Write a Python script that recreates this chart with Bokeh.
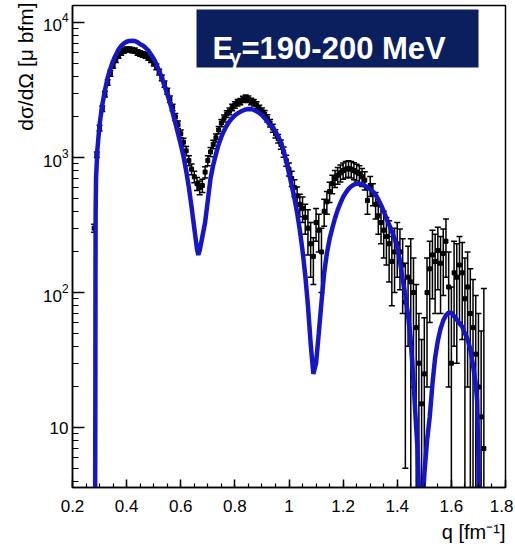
import numpy as np
from bokeh.plotting import figure
from bokeh.models import (ColumnDataSource, Whisker, TeeHead, Label, BoxAnnotation,
                          FixedTicker, LogTicker, LogTickFormatter, Range1d,
                          CustomJSTickFormatter, Title)
from bokeh.embed import file_html
from bokeh.resources import INLINE

# ---------------- data ----------------
# theory curve (q in fm^-1, dsigma/dOmega in mu b fm)
q_theory = [0.283, 0.2845, 0.285, 0.2855, 0.287, 0.292, 0.300, 0.31, 0.32, 0.33, 0.34, 0.35,
            0.36, 0.37, 0.38, 0.39, 0.40, 0.41, 0.42, 0.43, 0.44, 0.45, 0.46, 0.47, 0.48,
            0.49, 0.50, 0.51, 0.52, 0.53, 0.54, 0.55, 0.56, 0.57, 0.58, 0.59, 0.60, 0.61,
            0.62, 0.63, 0.64, 0.65, 0.66, 0.665, 0.67, 0.68, 0.69, 0.70, 0.71, 0.72, 0.73,
            0.74, 0.75, 0.76, 0.77, 0.78, 0.79, 0.80, 0.81, 0.82, 0.83, 0.84, 0.85, 0.86,
            0.87, 0.88, 0.89, 0.90, 0.91, 0.92, 0.93, 0.94, 0.95, 0.96, 0.97, 0.98, 0.99,
            1.00, 1.01, 1.02, 1.03, 1.04, 1.05, 1.06, 1.07, 1.08, 1.09, 1.10, 1.11, 1.12,
            1.13, 1.14, 1.15, 1.16, 1.17, 1.18, 1.19, 1.20, 1.21, 1.22, 1.23, 1.24, 1.25,
            1.26, 1.27, 1.28, 1.29, 1.30, 1.31, 1.32, 1.33, 1.34, 1.35, 1.36, 1.37, 1.38,
            1.39, 1.40, 1.41, 1.42, 1.43, 1.44, 1.45, 1.46, 1.47, 1.475, 1.48, 1.487, 1.495,
            1.50, 1.51, 1.52, 1.53, 1.54, 1.55, 1.56, 1.57, 1.58, 1.59, 1.60, 1.61, 1.62,
            1.63, 1.64, 1.65, 1.66, 1.67, 1.68, 1.69, 1.695, 1.70, 1.703]
xs_theory = [0.5, 20, 150, 400, 700, 1150, 1750, 2450, 3150, 3900, 4550, 5200,
             5750, 6300, 6700, 7000, 7200, 7300, 7320, 7300, 7150, 6900, 6750, 6500, 6200,
             5800, 5400, 4900, 4400, 3900, 3400, 2950, 2550, 2150, 1800, 1500, 1250, 1020,
             800, 600, 430, 300, 210, 190, 205, 260, 330, 480, 700, 880, 1060,
             1250, 1420, 1580, 1730, 1850, 1960, 2050, 2120, 2180, 2230, 2270, 2290, 2280,
             2250, 2200, 2140, 2060, 1960, 1850, 1730, 1680, 1560, 1430, 1300, 1120, 940,
             760, 620, 500, 390, 290, 205, 135, 80, 42, 25, 30, 50, 85,
             140, 195, 250, 300, 355, 410, 460, 510, 550, 585, 612, 630, 640,
             640, 632, 618, 600, 585, 560, 530, 490, 445, 400, 355, 318, 285,
             250, 218, 170, 125, 95, 68, 44, 22, 10, 7, 3.5, 1.5, 3,
             4.5, 8, 12, 21, 33, 44, 54, 62, 68, 71, 71, 67, 63,
             59, 56, 50, 45, 38, 29, 21, 16, 6, 1]

# measured data
q_data = [0.28, 0.29, 0.30, 0.31, 0.32, 0.33, 0.34, 0.35, 0.36, 0.37, 0.38, 0.39,
          0.40, 0.41, 0.42, 0.43, 0.44, 0.45, 0.46, 0.47, 0.48, 0.49, 0.50, 0.51,
          0.52, 0.53, 0.54, 0.55, 0.56, 0.57, 0.58, 0.59, 0.60, 0.61, 0.62, 0.63,
          0.64, 0.65, 0.66, 0.67, 0.68, 0.69, 0.70, 0.71, 0.72, 0.73, 0.74, 0.75,
          0.76, 0.77, 0.78, 0.79, 0.80, 0.81, 0.82, 0.83, 0.84, 0.85, 0.86, 0.87,
          0.88, 0.89, 0.90, 0.91, 0.92, 0.93, 0.94, 0.95, 0.96, 0.97, 0.98, 0.99,
          1.00, 1.01, 1.02, 1.03, 1.04, 1.05, 1.06, 1.07, 1.08, 1.09, 1.10, 1.11,
          1.12, 1.13, 1.14, 1.15, 1.16, 1.17, 1.18, 1.19, 1.20, 1.21, 1.22, 1.23,
          1.24, 1.25, 1.26, 1.27, 1.28, 1.29, 1.30, 1.31, 1.32, 1.33, 1.34, 1.35,
          1.36, 1.37, 1.38, 1.39, 1.40, 1.41, 1.42, 1.43, 1.44, 1.45, 1.46, 1.47,
          1.48, 1.49, 1.50, 1.51, 1.52, 1.53, 1.54, 1.55, 1.56, 1.57, 1.58, 1.59,
          1.60, 1.61, 1.62, 1.63, 1.64, 1.65, 1.66, 1.67, 1.68, 1.69, 1.70, 1.71,
          1.72]
xs_data = [300, 1050, 1650, 2300, 2950, 3600, 4200, 4800, 5300, 5700, 6000, 6200,
           6300, 6300, 6250, 6200, 6000, 5900, 5800, 5700, 5500, 5300, 5000, 4700,
           4300, 3900, 3500, 3100, 2700, 2350, 2000, 1750, 1500, 1300, 1120, 950,
           820, 720, 640, 600, 620, 780, 950, 1100, 1250, 1400, 1600, 1800,
           1950, 2100, 2200, 2350, 2450, 2550, 2600, 2700, 2750, 2700, 2600, 2550,
           2450, 2300, 2200, 2100, 1950, 1800, 1650, 1500, 1380, 1250, 1100, 950,
           820, 700, 600, 520, 450, 420, 360, 300, 230, 185, 330, 290,
           200, 400, 470, 560, 640, 700, 740, 770, 800, 820, 830, 820,
           800, 780, 760, 720, 680, 480, 620, 540, 450, 370, 330, 290,
           260, 230, 170, 200, 230, 200, 160, 85, 130, 120, 100, 55,
           30, 15, 25, 100, 150, 190, 170, 205, 165, 195, 240, 110,
           30, 140, 130, 160, 140, 90, 110, 70, 55, 35, 20, 12,
           7]
xs_err = [20, 50, 80, 110, 140, 170, 200, 220, 240, 260, 270, 280,
          290, 290, 290, 280, 280, 270, 270, 260, 250, 250, 240, 230,
          210, 190, 180, 160, 150, 130, 120, 110, 100, 90, 85, 80,
          75, 70, 70, 70, 70, 75, 80, 85, 90, 95, 100, 110,
          115, 120, 125, 130, 135, 140, 140, 145, 150, 150, 145, 140,
          140, 135, 130, 125, 120, 115, 110, 105, 100, 100, 95, 90,
          90, 90, 85, 85, 85, 90, 90, 110, 100, 70, 90, 90,
          100, 90, 90, 95, 100, 100, 105, 110, 110, 115, 115, 115,
          115, 110, 110, 110, 105, 100, 105, 100, 100, 100, 100, 110,
          100, 110, 90, 100, 100, 95, 90, 80, 90, 130, 80, 60,
          40, 30, 40, 80, 90, 100, 100, 100, 95, 100, 110, 90,
          80, 100, 100, 100, 95, 90, 90, 80, 70, 60, 50, 40,
          100]

x_tick_values = [0.2, 0.4, 0.6, 0.8, 1.0, 1.2, 1.4, 1.6, 1.8]

# ---------------- figure ----------------
FONT = "Liberation Sans"
p = figure(width=513, height=547,
           x_range=Range1d(0.2, 1.8), y_range=Range1d(3.603, 13355),
           y_axis_type="log", output_backend="svg", toolbar_location=None,
           min_border_left=72, min_border_right=8, min_border_top=5,
           min_border_bottom=59)
p.background_fill_color = "white"
p.border_fill_color = "white"
p.grid.visible = False
p.outline_line_color = "black"
p.outline_line_width = 1.5

# x axis
minor_x = [round(v, 2) for v in np.arange(0.2, 1.8001, 0.05)]
p.xaxis.ticker = FixedTicker(ticks=x_tick_values, minor_ticks=minor_x)
p.xaxis.formatter = CustomJSTickFormatter(code="""
    var s = tick.toFixed(1);
    if (s.endsWith('.0')) { s = s.slice(0, -2); }
    return s;
""")
# y axis
p.yaxis.ticker = LogTicker(num_minor_ticks=10)
p.yaxis.formatter = LogTickFormatter(min_exponent=2)

for ax in (p.xaxis, p.yaxis):
    ax.axis_line_color = "black"
    ax.axis_line_width = 1.5
    ax.major_tick_line_color = "black"
    ax.minor_tick_line_color = "black"
    ax.major_tick_line_width = 1.5
    ax.minor_tick_line_width = 1.2
    ax.major_tick_out = 0
    ax.minor_tick_out = 0
    ax.major_label_text_font = FONT
    ax.major_label_text_font_size = "17px"
    ax.major_label_text_color = "black"

p.xaxis.major_tick_in = 8
p.xaxis.minor_tick_in = 4
p.xaxis.major_label_standoff = 12
p.yaxis.major_tick_in = 12
p.yaxis.minor_tick_in = 6
p.yaxis.major_label_standoff = 4

# ---------------- data points ----------------
y_arr = np.array(xs_data, dtype=float)
e_arr = np.array(xs_err, dtype=float)
src = ColumnDataSource(dict(
    q=q_data, y=xs_data,
    upper=list(y_arr + e_arr),
    lower=list(np.maximum(y_arr - e_arr, 0.1)),
))
wh = Whisker(source=src, base="q", upper="upper", lower="lower",
             line_color="black", line_width=1.5,
             upper_head=TeeHead(size=6, line_color="black", line_width=1.5),
             lower_head=TeeHead(size=6, line_color="black", line_width=1.5))
p.add_layout(wh)
p.scatter("q", "y", source=src, marker="square", size=4,
          fill_color="black", line_color="black")

# ---------------- theory curve ----------------
p.line(q_theory, xs_theory, line_color="#1616c6", line_width=4.5)

# ---------------- label box ----------------
box = BoxAnnotation(left=124, right=406, bottom=420, top=478,
                    left_units="screen", right_units="screen",
                    bottom_units="screen", top_units="screen",
                    fill_color="#0b1f5e", fill_alpha=1.0, line_color=None)
p.add_layout(box)
p.add_layout(Label(x=140, y=439, x_units="screen", y_units="screen",
                   text="E", text_font=FONT, text_font_style="bold",
                   text_font_size="31px", text_color="white",
                   text_baseline="alphabetic"))
p.add_layout(Label(x=157, y=431, x_units="screen", y_units="screen",
                   text="γ", text_font=FONT, text_font_style="bold",
                   text_font_size="21px", text_color="white",
                   text_baseline="alphabetic"))
p.add_layout(Label(x=169, y=439, x_units="screen", y_units="screen",
                   text="=190-200 MeV", text_font=FONT, text_font_style="bold",
                   text_font_size="31px", text_color="white",
                   text_baseline="alphabetic"))

# ---------------- axis titles ----------------
y_title = Title(text="dσ/dΩ [μ bfm]", align="right", text_font=FONT,
                text_font_size="21px", text_font_style="normal",
                text_color="black", standoff=5, offset=-3)
p.add_layout(y_title, "left")
x_title = Title(text="q [fm⁻¹]", align="right", text_font=FONT,
                text_font_size="20px", text_font_style="normal",
                text_color="black", standoff=9, offset=0)
p.add_layout(x_title, "below")

open("out.html", "w").write(file_html(p, INLINE))
